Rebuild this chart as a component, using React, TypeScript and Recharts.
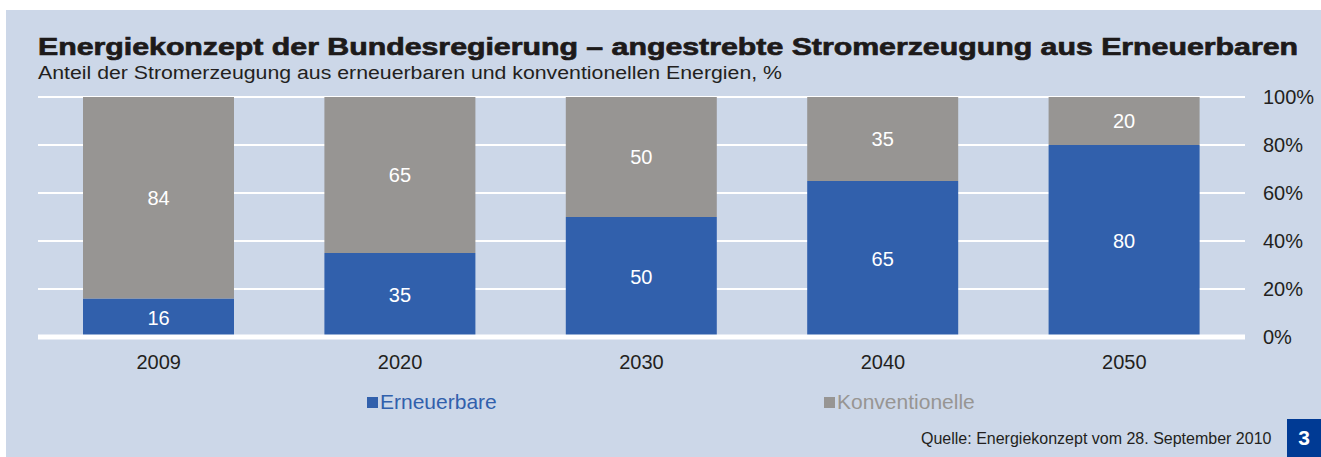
import React from 'react';
import {
  BarChart,
  Bar,
  XAxis,
  YAxis,
  CartesianGrid,
  ReferenceLine,
  LabelList,
} from 'recharts';

const years = ['2009', '2020', '2030', '2040', '2050'];
const erneuerbare = [16, 35, 50, 65, 80];
const konventionelle = [84, 65, 50, 35, 20];
const yTicks = [0, 20, 40, 60, 80, 100];
const seriesNames = ['Erneuerbare', 'Konventionelle'];

const BLUE = '#3160ac';
const GRAY = '#979593';
const PANEL = '#ccd7e8';
const FONT = '"Liberation Sans", Arial, sans-serif';

const data = years.map((year, i) => ({
  year,
  erneuerbare: erneuerbare[i],
  konventionelle: konventionelle[i],
}));

const App = () => {
  return (
    <div
      style={{
        position: 'absolute',
        left: 0,
        top: 0,
        width: 1321,
        height: 457,
        background: '#ffffff',
        fontFamily: FONT,
        overflow: 'hidden',
      }}
    >
      <div
        style={{
          position: 'absolute',
          left: 6,
          top: 10,
          width: 1315,
          height: 447,
          background: PANEL,
        }}
      />

      {/* title + subtitle */}
      <svg
        width={1321}
        height={100}
        style={{ position: 'absolute', left: 0, top: 0 }}
      >
        <text
          x={38}
          y={55}
          fontSize={24}
          fontWeight="bold"
          fill="#1d1a1a"
          stroke="#1d1a1a"
          strokeWidth={0.7}
          textLength={1260}
          lengthAdjust="spacingAndGlyphs"
          fontFamily={FONT}
        >
          Energiekonzept der Bundesregierung – angestrebte Stromerzeugung aus Erneuerbaren
        </text>
        <text
          x={38}
          y={79}
          fontSize={18}
          fill="#231f20"
          textLength={744}
          lengthAdjust="spacingAndGlyphs"
          fontFamily={FONT}
        >
          Anteil der Stromerzeugung aus erneuerbaren und konventionellen Energien, %
        </text>
      </svg>

      <div style={{ position: 'absolute', left: 0, top: 0 }}>
        <BarChart
          width={1321}
          height={457}
          data={data}
          margin={{ top: 97, right: 16, bottom: 90, left: 38 }}
        >
          <CartesianGrid
            vertical={false}
            stroke="#ffffff"
            strokeWidth={2}
          />
          <XAxis
            dataKey="year"
            axisLine={false}
            tickLine={false}
            tickSize={0}
            tickMargin={18}
            height={30}
            tick={{ fill: '#231f20', fontSize: 20, fontFamily: FONT }}
          />
          <YAxis
            orientation="right"
            domain={[0, 100]}
            ticks={yTicks}
            tickFormatter={(v: number) => `${v}%`}
            axisLine={false}
            tickLine={false}
            tickSize={0}
            tickMargin={18}
            width={60}
            tick={{
              fill: '#231f20',
              fontSize: 20,
              fontFamily: FONT,
              textAnchor: 'start',
            }}
          />
          <Bar
            dataKey="erneuerbare"
            stackId="a"
            fill={BLUE}
            barSize={151}
            isAnimationActive={false}
          >
            <LabelList
              dataKey="erneuerbare"
              position="center"
              fill="#ffffff"
              fontSize={20}
              fontFamily={FONT}
            />
          </Bar>
          <Bar
            dataKey="konventionelle"
            stackId="a"
            fill={GRAY}
            barSize={151}
            isAnimationActive={false}
          >
            <LabelList
              dataKey="konventionelle"
              position="center"
              fill="#ffffff"
              fontSize={20}
              fontFamily={FONT}
            />
          </Bar>
          <ReferenceLine y={0} stroke="#ffffff" strokeWidth={5} />
        </BarChart>
      </div>

      {/* legend */}
      {seriesNames.map((name, i) => (
        <div
          key={name}
          style={{
            position: 'absolute',
            left: i === 0 ? 367 : 824,
            top: 390,
            display: 'flex',
            alignItems: 'center',
            fontSize: 21,
            color: i === 0 ? BLUE : GRAY,
            whiteSpace: 'nowrap',
          }}
        >
          <span
            style={{
              display: 'inline-block',
              width: 11,
              height: 11,
              background: i === 0 ? BLUE : GRAY,
              marginRight: 2,
            }}
          />
          {name}
        </div>
      ))}

      <div
        style={{
          position: 'absolute',
          left: 921,
          top: 430,
          fontSize: 16,
          color: '#231f20',
          whiteSpace: 'nowrap',
        }}
      >
        Quelle: Energiekonzept vom 28. September 2010
      </div>

      <div
        style={{
          position: 'absolute',
          left: 1287,
          top: 419,
          width: 34,
          height: 38,
          background: '#003a94',
          color: '#ffffff',
          fontWeight: 'bold',
          fontSize: 21,
          display: 'flex',
          alignItems: 'center',
          justifyContent: 'center',
        }}
      >
        3
      </div>
    </div>
  );
};

export default App;
